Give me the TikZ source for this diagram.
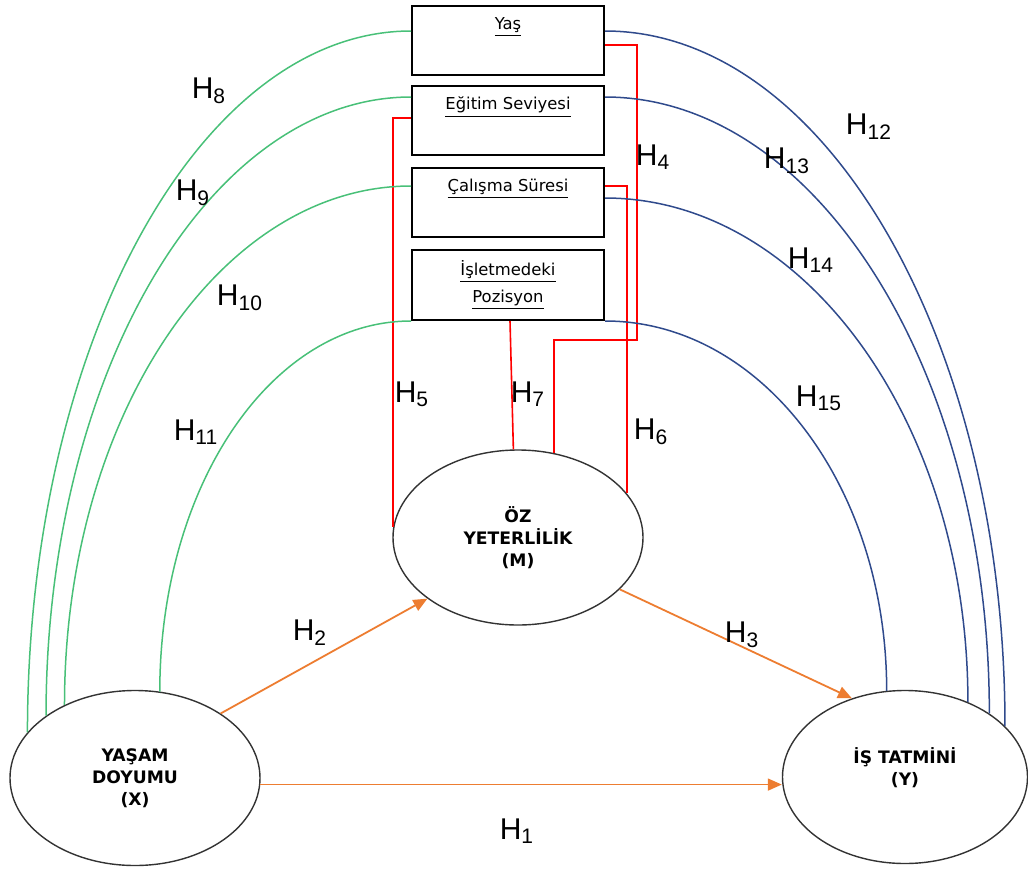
\documentclass[tikz,border=0pt]{standalone}
\usepackage{fontspec}
\setmainfont{Liberation Sans}
\newfontfamily\dejavu{DejaVu Sans}
\usepackage{tikz}
\usetikzlibrary{shapes.geometric,arrows.meta,positioning,calc}
\definecolor{hypgreen}{RGB}{72, 192, 120}
\definecolor{hypblue}{RGB}{47, 74, 140}
\definecolor{hyporange}{RGB}{237, 125, 49}
\definecolor{hypred}{RGB}{255, 0, 0}

\begin{document}
\begin{tikzpicture}[
        x=0.5pt, y=0.5pt,
        demobox/.style={draw=black, line width=1pt, minimum width=96pt, minimum height=34.5pt, inner sep=0pt, align=center, font=\dejavu\fontsize{8.2}{13.5}\selectfont},
        demotext/.style={inner sep=0pt, font=\dejavu\fontsize{8.2}{13.5}\selectfont},
        latent/.style={ellipse, draw=black!80, line width=0.7pt, minimum width=125pt, minimum height=87.5pt, inner sep=0pt, align=center, font=\dejavu\bfseries\fontsize{8.6}{11}\selectfont},
        hlabel/.style={inner sep=0pt, text depth=0pt, font=\fontsize{15}{18}\selectfont},
        linkx/.style={draw=hypgreen, line width=0.75pt},
        linky/.style={draw=hypblue, line width=0.75pt},
        linkm/.style={draw=hypred, line width=0.8pt},
        effect/.style={draw=hyporange, line width=0.9pt, -{Triangle[length=7pt, width=6pt]}}
    ]
        \useasboundingbox (0,0) rectangle (1028,-868);

        % Demographic boxes
        \node[demobox] (tbYas) at (508, -40.5) {};
        \node[demotext] (txYas) at ([yshift=-11pt]tbYas.north) {\underline{Yaş}};

        \node[demobox] (tbEgitim) at (508, -120.5) {};
        \node[demotext] (txEgitim) at ([yshift=-11pt]tbEgitim.north) {\underline{Eğitim Seviyesi}};

        \node[demobox] (tbCalisma) at (508, -202.5) {};
        \node[demotext] (txCalisma) at ([yshift=-11pt]tbCalisma.north) {\underline{Çalışma Süresi}};

        \node[demobox, minimum height=35pt] (tbPoz) at (508, -285) {\underline{İşletmedeki}\\\underline{Pozisyon}};

        % Latent variables
        \node[latent] (vM) at (518, -537.5) {ÖZ\\YETERLİLİK\\(M)};
        \node[latent] (vX) at (135, -778) {YAŞAM\\DOYUMU\\(X)};
        \node[latent, minimum width=122.5pt, minimum height=86.5pt] (vY) at (905, -777) {};
        \node[latent, draw=none, minimum width=0pt, minimum height=0pt] (txY) at ([yshift=4.5pt]vY.center) {İŞ TATMİNİ\\(Y)};

        % Main effects
        \draw[effect] (vX.-3) -- (vX.-3 -| vY.west);
        \draw[effect] (vX.37.4) -- (vM.214.4);
        \draw[effect] (vM.-27) -- (vY.124);

        % Demographics -> M
        \coordinate (h4bend) at (637, -340);
        \draw[linkm] ([yshift=-2.25pt]tbYas.east) -| (h4bend) -| (vM.67.5);
        \draw[linkm] ([yshift=1.25pt]tbEgitim.west) -| (vM.175);
        \draw[linkm] ([yshift=8.25pt]tbCalisma.east) -| (vM.22.8);
        \draw[linkm] ([xshift=1pt]tbPoz.south) -- (vM.93.3);

        % Demographics -> X
        \draw[linkx] ([yshift=4.75pt]tbYas.west) .. controls +(-211.9,0) and +(0,387.5) .. (vX.157);
        \draw[linkx] ([yshift=11.75pt]tbEgitim.west) .. controls +(-201.6,0) and +(0,342) .. (vX.145);
        \draw[linkx] ([yshift=8.25pt]tbCalisma.west) .. controls +(-191.5,0) and +(0,287.1) .. (vX.134);
        \draw[linkx] (tbPoz.south west) .. controls +(-139.5,0) and +(0,205.8) .. (vX.74);

        % Demographics -> Y
        \draw[linky] ([yshift=4.75pt]tbYas.east) .. controls +(221,0) and +(0,383.9) .. (vY.27.2);
        \draw[linky] ([yshift=11.75pt]tbEgitim.east) .. controls +(212.3,0) and +(0,340.5) .. (vY.37.3);
        \draw[linky] ([yshift=2.25pt]tbCalisma.east) .. controls +(200.3,0) and +(0,278.5) .. (vY.50.5);
        \draw[linky] (tbPoz.south east) .. controls +(156.2,0) and +(0,205.2) .. (vY.102);

        % Hypothesis labels
        \node[hlabel] (h1) at (517, -829) {H\textsubscript{1}};
        \node[hlabel] (h2) at (310, -630) {H\textsubscript{2}};
        \node[hlabel] (h3) at (742, -632) {H\textsubscript{3}};
        \node[hlabel] (h4) at (653, -155) {H\textsubscript{4}};
        \node[hlabel] (h5) at (412, -392) {H\textsubscript{5}};
        \node[hlabel] (h6) at (651, -429) {H\textsubscript{6}};
        \node[hlabel] (h7) at (528, -392) {H\textsubscript{7}};
        \node[hlabel] (h8) at (209, -88) {H\textsubscript{8}};
        \node[hlabel] (h9) at (193, -190) {H\textsubscript{9}};
        \node[hlabel] (h10) at (240, -295) {H\textsubscript{10}};
        \node[hlabel] (h11) at (196, -430) {H\textsubscript{11}};
        \node[hlabel] (h12) at (869, -124) {H\textsubscript{12}};
        \node[hlabel] (h13) at (787, -158) {H\textsubscript{13}};
        \node[hlabel] (h14) at (811, -258) {H\textsubscript{14}};
        \node[hlabel] (h15) at (819, -396) {H\textsubscript{15}};
    \end{tikzpicture}
\end{document}
